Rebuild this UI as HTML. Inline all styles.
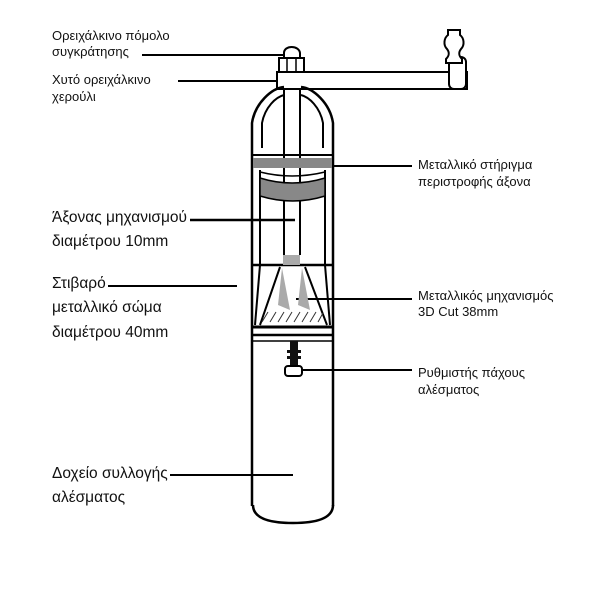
<!DOCTYPE html>
<html><head><style>
body{margin:0;background:#fff;}
svg{display:block}
text{font-family:"Liberation Sans",sans-serif;fill:#111}
.n{font-size:13px}
.b{font-size:15.5px}
</style></head><body>
<svg width="600" height="600" viewBox="0 0 600 600">
<g fill="none" stroke="#000" stroke-width="2.5">
<line x1="142" y1="55" x2="285" y2="55" stroke-width="2"/>
<line x1="178" y1="81" x2="276" y2="81" stroke-width="2"/>
<line x1="312" y1="166" x2="412" y2="166" stroke-width="2"/>
<line x1="190" y1="220" x2="295" y2="220" stroke-width="2.5"/>
<line x1="108" y1="286" x2="237" y2="286" stroke-width="2"/>
<line x1="296" y1="299" x2="412" y2="299" stroke-width="2"/>
<line x1="300" y1="370" x2="412" y2="370" stroke-width="2"/>
<line x1="170" y1="475" x2="293" y2="475" stroke-width="2"/>
<rect x="277" y="72" width="190" height="17" fill="#fff" stroke-width="2"/>
<rect x="449" y="57" width="17" height="32" rx="5" fill="#fff" stroke-width="2"/>
<path d="M448 30 h12 v5 c4 3 5 10 1 14 c-3 4 -2 7 1 10 v4 h-16 v-4 c3 -3 4 -6 1 -10 c-4 -4 -3 -11 1 -14z" fill="#fff" stroke-width="2"/>
<path d="M284 58 v-5 c0 -8 15 -8 16 0 v5z" fill="#fff" stroke-width="2"/>
<rect x="279" y="58" width="25" height="14" fill="#fff" stroke-width="2"/>
<line x1="287" y1="58" x2="287" y2="72" stroke-width="1.5"/><line x1="296" y1="58" x2="296" y2="72" stroke-width="1.5"/>
<path d="M252 148 v-25 c3 -20 20 -35 32 -36" />
<path d="M262 148 v-25 c3 -16 14 -26 22 -28" stroke-width="2"/>
<path d="M333 148 v-25 c-3 -20 -20 -35 -32 -36" />
<path d="M323 148 v-25 c-3 -16 -14 -26 -22 -28" stroke-width="2"/>
<line x1="252" y1="148" x2="252" y2="506"/>
<line x1="333" y1="148" x2="333" y2="506"/>
<line x1="260" y1="170" x2="260" y2="265" stroke-width="2"/>
<line x1="325" y1="170" x2="325" y2="265" stroke-width="2"/>
<line x1="252" y1="155" x2="333" y2="155" stroke-width="2"/>
<line x1="284" y1="88" x2="284" y2="255" stroke-width="2"/>
<line x1="300" y1="88" x2="300" y2="255" stroke-width="2"/>
</g>
<rect x="253" y="158" width="79" height="10" fill="#888"/>
<path d="M260 178 q32 10 65 0 v18 q-32 10 -65 0z" fill="#888" stroke="#000" stroke-width="1.5"/>
<path d="M260 172 q32 8 65 0" fill="none" stroke="#000" stroke-width="1.5"/>
<g fill="none" stroke="#000">
<line x1="252" y1="265" x2="333" y2="265" stroke-width="2.5"/>
<path d="M260 265 L255 325" stroke-width="2"/>
<path d="M325 265 L330 325" stroke-width="2"/>
<path d="M280 267 L260 325 M305 267 L327 325" stroke-width="2"/>
<line x1="252" y1="327" x2="333" y2="327" stroke-width="3"/>
<line x1="252" y1="335" x2="333" y2="335" stroke-width="2.5"/>
<line x1="252" y1="341" x2="333" y2="341" stroke-width="1.5"/>
</g>
<path d="M282 268 L278 305 L290 310 Z M302 268 L310 310 L298 305Z" fill="#aaa"/>
<rect x="283" y="255" width="17" height="10" fill="#aaa"/>
<g stroke="#333" stroke-width="1">
<path d="M262 322 l6 -10 M270 322 l6 -10 M278 322 l6 -10 M286 322 l6 -10 M294 322 l6 -10 M302 322 l6 -10 M310 322 l6 -10 M318 322 l5 -9"/>
</g>
<rect x="290" y="341" width="8" height="25" fill="#111"/>
<rect x="287" y="350" width="14" height="3" fill="#111"/>
<rect x="287" y="356" width="14" height="3" fill="#111"/>
<rect x="285" y="366" width="17" height="10" rx="3" fill="#fff" stroke="#000" stroke-width="2"/>
<path d="M253 505 q0 18 40 18 q40 0 40 -18" fill="none" stroke="#000" stroke-width="2.5"/>
<text class="n" x="52" y="40">Ορειχάλκινο πόμολο</text>
<text class="n" x="52" y="56">συγκράτησης</text>
<text class="n" x="52" y="84">Χυτό ορειχάλκινο</text>
<text class="n" x="52" y="101">χερούλι</text>
<text class="n" x="418" y="169">Μεταλλικό στήριγμα</text>
<text class="n" x="418" y="186">περιστροφής άξονα</text>
<text class="b" x="52" y="222">Άξονας μηχανισμού</text>
<text class="b" x="52" y="246">διαμέτρου 10mm</text>
<text class="b" x="52" y="288">Στιβαρό</text>
<text class="b" x="52" y="312">μεταλλικό σώμα</text>
<text class="b" x="52" y="337">διαμέτρου 40mm</text>
<text class="n" x="418" y="300">Μεταλλικός μηχανισμός</text>
<text class="n" x="418" y="316">3D Cut  38mm</text>
<text class="n" x="418" y="377">Ρυθμιστής πάχους</text>
<text class="n" x="418" y="394">αλέσματος</text>
<text class="b" x="52" y="478">Δοχείο συλλογής</text>
<text class="b" x="52" y="502">αλέσματος</text>
</svg>
</body></html>
